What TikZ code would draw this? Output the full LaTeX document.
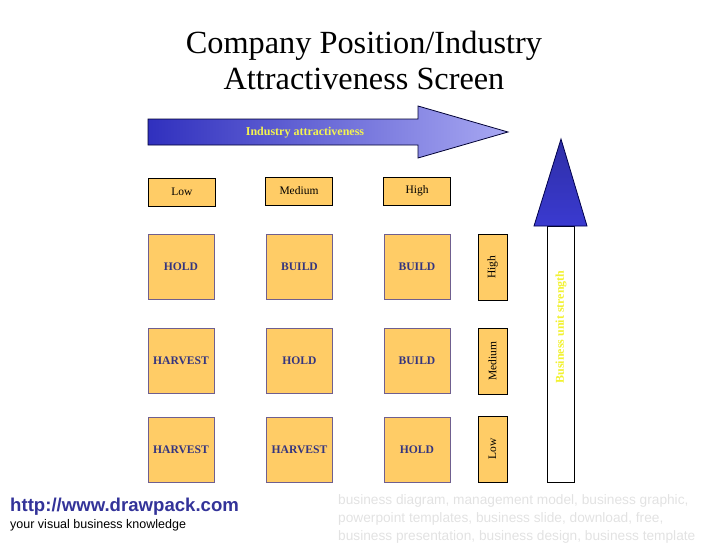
\documentclass[tikz,border=0pt]{standalone}
\usepackage{fontspec}
\setmainfont{Liberation Serif}
\setsansfont{Liberation Sans}
\usetikzlibrary{positioning}

\definecolor{cellfill}{HTML}{FFCC66}
\definecolor{cellline}{HTML}{6F5F8F}
\definecolor{celltext}{HTML}{35357F}
\definecolor{arrowdark}{HTML}{3030BE}
\definecolor{arrowlight}{HTML}{A8A8F2}
\definecolor{headblue}{HTML}{3A3AD0}
\definecolor{labelyellow}{HTML}{F2F230}
\definecolor{linkblue}{HTML}{333399}
\definecolor{tagsgray}{HTML}{E2E2E2}

\tikzset{
  cell/.style={draw=cellline,line width=1pt,fill=cellfill,minimum width=66pt,
    minimum height=65pt,inner sep=0pt,text=celltext,
    font=\fontsize{11.6}{13}\selectfont\bfseries},
  colhead/.style={draw=black,line width=1pt,fill=cellfill,minimum width=67pt,
    minimum height=28pt,inner sep=0pt,font=\fontsize{11.5}{13}\selectfont},
  rowhead/.style={draw=black,line width=1pt,fill=cellfill,minimum width=66pt,
    minimum height=29pt,inner sep=0pt,rotate=90,font=\fontsize{11.5}{13}\selectfont},
  arrowlabel/.style={text=labelyellow,font=\fontsize{12}{13}\selectfont\bfseries}
}

\begin{document}
\begin{tikzpicture}[x=1pt,y=-1pt]
  \useasboundingbox (0,0) rectangle (728,546);

  % title
  \node[align=center,font=\fontsize{32.3}{36}\selectfont] (title) at (364,60)
    {Company Position/Industry\\Attractiveness Screen};

  % industry attractiveness arrow
  \shade[left color=arrowdark,right color=arrowlight,draw=black!80!blue,line width=0.8pt]
    (148,119) -- (418,119) -- (418,106) -- (508,132) -- (418,158) -- (418,145)
    -- (148,145) -- cycle;
  \node[arrowlabel,text=labelyellow!85!white] (indattr) at (305,133) {Industry attractiveness};

  % column headings
  \node[colhead] (colLow) at (182,192) {Low};
  \node[colhead] (colMed) at (299,191) {Medium};
  \node[colhead] (colHigh) at (417,191) {High};

  % the screen
  \foreach \r/\y/\one/\two/\three in {1/266.5/HOLD/BUILD/BUILD,
      2/361/HARVEST/HOLD/BUILD, 3/449.5/HARVEST/HARVEST/HOLD} {
    \node[cell] (cell\r-1) at (181,\y) {\one};
    \node[cell] (cell\r-2) at (299.5,\y) {\two};
    \node[cell] (cell\r-3) at (417,\y) {\three};
  }

  % row headings
  \node[rowhead] (rowHigh) at (492.5,267) {High};
  \node[rowhead] (rowMed) at (492.5,361) {Medium};
  \node[rowhead] (rowLow) at (492.5,449) {Low};

  % business unit strength arrow
  \draw[fill=white,line width=1pt] (547,226) rectangle (574,482);
  \shade[top color=headblue!80!black,bottom color=headblue,draw=black!70!blue,line width=0.8pt]
    (534,226) -- (561,139) -- (587,226) -- cycle;
  \node[arrowlabel,rotate=90] (busstr) at (561,327) {Business unit strength};

  % footer
  \node[anchor=west,inner sep=0pt,text=linkblue,font=\sffamily\bfseries\fontsize{18.6}{20}\selectfont]
    (link) at (10,507) {http://www.drawpack.com};
  \node[anchor=west,inner sep=0pt,font=\sffamily\fontsize{12.5}{14}\selectfont]
    (slogan) at (10,525) {your visual business knowledge};
  \node[anchor=north west,inner sep=0pt,align=left,text=tagsgray,
    font=\sffamily\fontsize{13.7}{18}\selectfont] (tags) at (338,494)
    {business diagram, management model, business graphic,\\
     powerpoint templates, business slide, download, free,\\
     business presentation, business design, business template};
\end{tikzpicture}
\end{document}
